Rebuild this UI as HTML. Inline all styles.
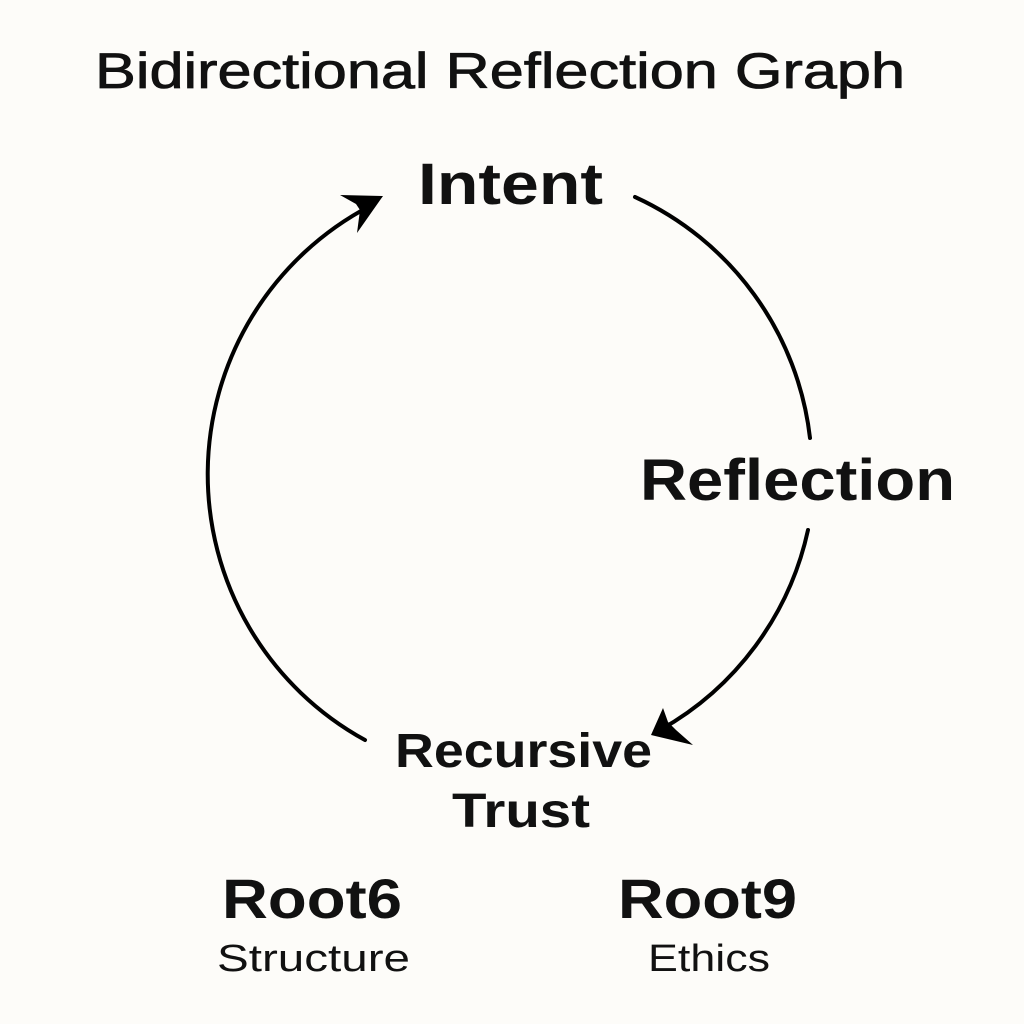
<!DOCTYPE html>
<html><head><style>
html,body{margin:0;padding:0;background:#fdfcf9;}
svg{display:block}
text{font-family:"Liberation Sans",sans-serif;fill:#111;}
</style></head><body>
<svg width="1024" height="1024" viewBox="0 0 1024 1024">
<rect width="1024" height="1024" fill="#fdfcf9"/>
<text x="95" y="88" font-size="50" textLength="810" lengthAdjust="spacingAndGlyphs" stroke="#111" stroke-width="0.8">Bidirectional Reflection Graph</text>
<text x="418" y="204" font-size="58" font-weight="bold" textLength="185" lengthAdjust="spacingAndGlyphs">Intent</text>
<text x="640" y="500" font-size="58" font-weight="bold" textLength="315" lengthAdjust="spacingAndGlyphs">Reflection</text>
<text x="395" y="767" font-size="48" font-weight="bold" textLength="257" lengthAdjust="spacingAndGlyphs">Recursive</text>
<text x="452" y="827" font-size="48" font-weight="bold" textLength="138" lengthAdjust="spacingAndGlyphs">Trust</text>
<text x="222" y="918" font-size="56" font-weight="bold" textLength="180" lengthAdjust="spacingAndGlyphs">Root6</text>
<text x="217" y="971" font-size="38" textLength="193" lengthAdjust="spacingAndGlyphs">Structure</text>
<text x="618" y="918" font-size="56" font-weight="bold" textLength="179" lengthAdjust="spacingAndGlyphs">Root9</text>
<text x="648" y="971" font-size="38" textLength="122" lengthAdjust="spacingAndGlyphs">Ethics</text>
<g fill="none" stroke="#000" stroke-width="4" stroke-linecap="round">
<path d="M365 740 A303 303 0 0 1 370 206"/>
<path d="M635 197 A303 303 0 0 1 810 438"/>
<path d="M808 530 A303 303 0 0 1 660 730"/>
</g>
<path d="M383 196 L340 195 L356 204 L360 210 L357 233 Z" fill="#000"/>
<path d="M651 735 L663 708 L668 722 L676 730 L693 745 Z" fill="#000"/>
</svg>
</body></html>
